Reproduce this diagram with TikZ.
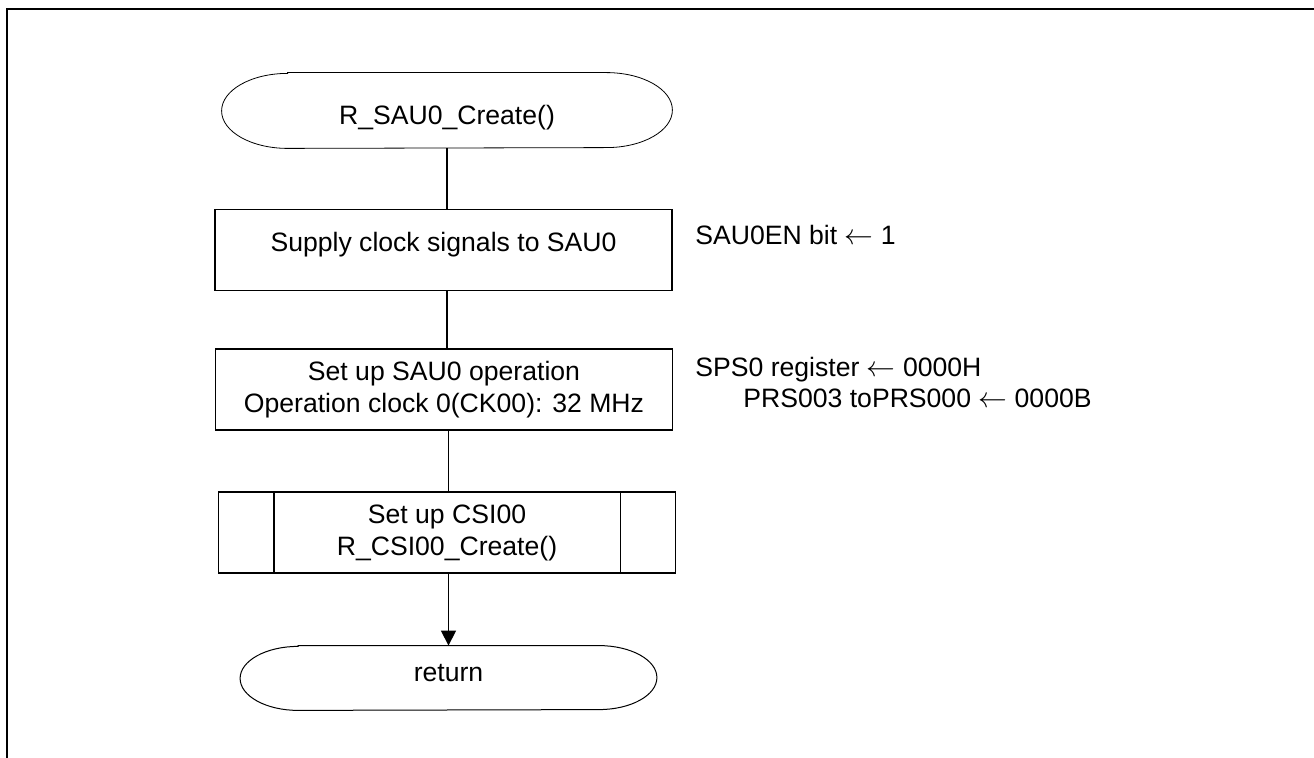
\documentclass[tikz,border=0pt]{standalone}
\usepackage{fontspec}
\setmainfont{Liberation Sans}
\usetikzlibrary{arrows.meta}
\tikzset{
  terminal/.style={minimum width=#1, inner sep=0pt},
  proc/.style={draw, line width=0.75pt, minimum width=228.5pt, minimum height=40.5pt, inner sep=0pt, align=center},
  note/.style={anchor=base west, inner sep=0pt},
  flow/.style={line width=0.65pt},
}
% outline of a terminal: node, x radius, y radius
\newcommand{\termframe}[3]{%
  \draw ([xshift=#2]#1.north west) -- ([xshift=-#2]#1.north east)
    arc[start angle=90, end angle=-90, x radius=#2, y radius=#3]
    -- ([xshift=#2]#1.south west)
    arc[start angle=270, end angle=90, x radius=#2, y radius=#3] -- cycle;}
\begin{document}
\begin{tikzpicture}[x=0.5pt, y=-0.5pt, font=\fontsize{13.3}{16}\selectfont]
\useasboundingbox (0,0) rectangle (1314,758);
\draw [line width=1pt] (7,758) -- (7,9) -- (1314,9);

\node[terminal=225pt, minimum height=37.5pt, text height=17.3pt, text depth=3pt] (start) at (447,110.5) {R\_SAU0\_Create()};
\termframe{start}{33pt}{18.75pt}
\node[proc, text height=10pt, text depth=8.3pt] (supply) at (443.5,250) {Supply clock signals to SAU0};
\node[proc] (sau) at (444,389.5) {Set up SAU0 operation\\Operation clock 0(CK00): 32 MHz};
\node[proc] (csi) at (447,532.5) {Set up CSI00\\R\_CSI00\_Create()};
\draw [line width=0.75pt] ([xshift=28pt]csi.north west) -- ([xshift=28pt]csi.south west);
\draw [line width=0.75pt] ([xshift=-28pt]csi.north east) -- ([xshift=-28pt]csi.south east);
\node[terminal=208pt, minimum height=32pt, text height=10pt, text depth=6.5pt] (ret) at (448.5,678) {return};
\begin{scope}[line width=0.5pt]
\termframe{ret}{29pt}{16pt}
\end{scope}

\draw [flow] (start.south) -- (start.south |- supply.north);
\draw [flow] (supply.south -| start) -- (sau.north -| start);
\draw [flow] (sau.south -| ret) -- (csi.north -| ret);
\draw [flow, -{Triangle[length=7.5pt, width=7.5pt]}] (csi.south -| ret) -- (ret.north);

\node[note] (clk) at (695,244.5) {SAU0EN bit $\leftarrow$ 1};
\node[note] (sps) at (695,376.5) {SPS0 register $\leftarrow$ 0000H};
\node[note] (prs) at (743,407.5) {PRS003 toPRS000 $\leftarrow$ 0000B};
\end{tikzpicture}
\end{document}
